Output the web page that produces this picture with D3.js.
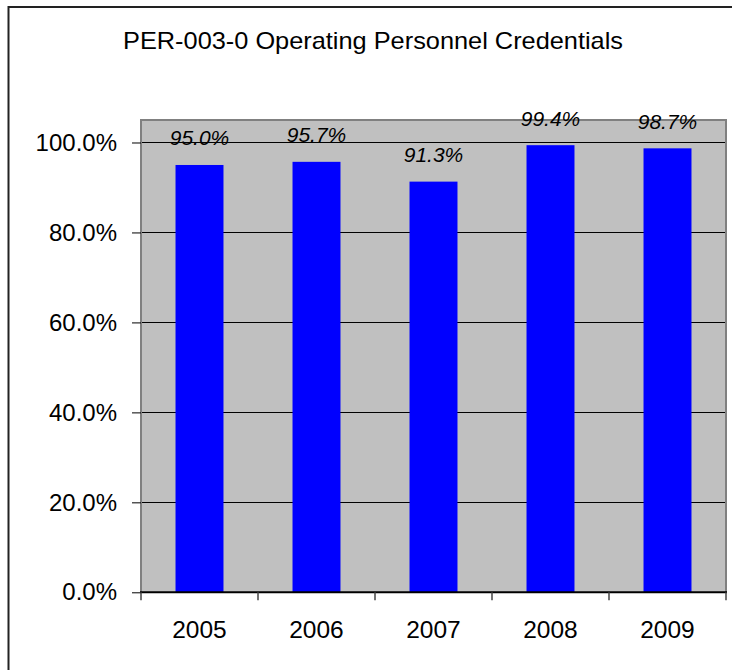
<!DOCTYPE html>
<html>
<head>
<meta charset="utf-8">
<script src="https://cdn.jsdelivr.net/npm/d3@7"></script>
<style>
  html, body { margin: 0; padding: 0; background: #fff; }
  svg { display: block; font-family: "Liberation Sans", Arial, sans-serif; }
</style>
</head>
<body>
<script>
const title = "PER-003-0 Operating Personnel Credentials";
const categories = ["2005", "2006", "2007", "2008", "2009"];
const values = [0.950, 0.957, 0.913, 0.994, 0.987];
const yTicks = [0, 0.2, 0.4, 0.6, 0.8, 1.0];
const yMax = 1.05;

const W = 732, H = 670;
const plot = { left: 141, top: 120, right: 726, bottom: 592.3 };

const svg = d3.select("body").append("svg").attr("width", W).attr("height", H);

// outer frame
svg.append("rect")
  .attr("x", 8.5).attr("y", 7).attr("width", W + 20).attr("height", H + 20)
  .attr("fill", "#fff").attr("stroke", "#222").attr("stroke-width", 2);

// title
svg.append("text")
  .attr("x", 373).attr("y", 49)
  .attr("text-anchor", "middle")
  .attr("font-size", 24)
  .attr("fill", "#000")
  .attr("textLength", 500)
  .attr("lengthAdjust", "spacingAndGlyphs")
  .text(title);

const x = d3.scaleBand().domain(categories).range([plot.left, plot.right]).paddingInner(0).paddingOuter(0);
const y = d3.scaleLinear().domain([0, yMax]).range([plot.bottom, plot.top]);

// plot background
svg.append("rect")
  .attr("x", plot.left).attr("y", plot.top)
  .attr("width", plot.right - plot.left).attr("height", plot.bottom - plot.top)
  .attr("fill", "#C0C0C0");

// gridlines
svg.append("g").selectAll("line").data(yTicks.filter(d => d > 0)).join("line")
  .attr("x1", plot.left).attr("x2", plot.right)
  .attr("y1", d => Math.round(y(d)) + 0.5).attr("y2", d => Math.round(y(d)) + 0.5)
  .attr("stroke", "#000").attr("stroke-width", 1);

// plot border (left, top, right)
svg.append("path")
  .attr("d", `M${plot.left},${plot.bottom} V${plot.top} H${plot.right} V${plot.bottom}`)
  .attr("fill", "none").attr("stroke", "#808080").attr("stroke-width", 2);

// bars
const barW = x.bandwidth() * 0.41;
svg.append("g").selectAll("rect").data(categories).join("rect")
  .attr("x", (d) => x(d) + (x.bandwidth() - barW) / 2)
  .attr("width", barW)
  .attr("y", (d, i) => y(values[i]))
  .attr("height", (d, i) => plot.bottom - y(values[i]))
  .attr("fill", "#0000FF");

// data labels
svg.append("g").selectAll("text").data(categories).join("text")
  .attr("x", d => x(d) + x.bandwidth() / 2)
  .attr("y", (d, i) => y(values[i]) - 19.5)
  .attr("text-anchor", "middle")
  .attr("font-size", 21)
  .attr("font-style", "italic")
  .attr("fill", "#000")
  .text((d, i) => (values[i] * 100).toFixed(1) + "%");

// y axis
const yAxis = d3.axisLeft(y).tickValues(yTicks).tickSize(9).tickPadding(15)
  .tickFormat(d => (d * 100).toFixed(1) + "%");
const gy = svg.append("g").attr("transform", `translate(${plot.left},0)`).call(yAxis);
gy.select(".domain").remove();
gy.selectAll(".tick line").attr("stroke", "#000");
gy.selectAll(".tick text").attr("font-size", 24).attr("fill", "#000")
  .attr("font-family", "'Liberation Sans', Arial, sans-serif");

// x axis line
svg.append("line")
  .attr("x1", plot.left - 1).attr("x2", plot.right + 1)
  .attr("y1", plot.bottom).attr("y2", plot.bottom)
  .attr("stroke", "#000").attr("stroke-width", 2);

// x tick marks at category boundaries
const bounds = categories.map(d => x(d)).concat([plot.right]);
svg.append("g").selectAll("line").data(bounds).join("line")
  .attr("x1", d => d).attr("x2", d => d)
  .attr("y1", plot.bottom).attr("y2", plot.bottom + 8)
  .attr("stroke", "#444").attr("stroke-width", 1.5);

// x labels
svg.append("g").selectAll("text").data(categories).join("text")
  .attr("x", d => x(d) + x.bandwidth() / 2)
  .attr("y", 638)
  .attr("text-anchor", "middle")
  .attr("font-size", 24.5)
  .attr("fill", "#000")
  .text(d => d);
</script>
</body>
</html>
